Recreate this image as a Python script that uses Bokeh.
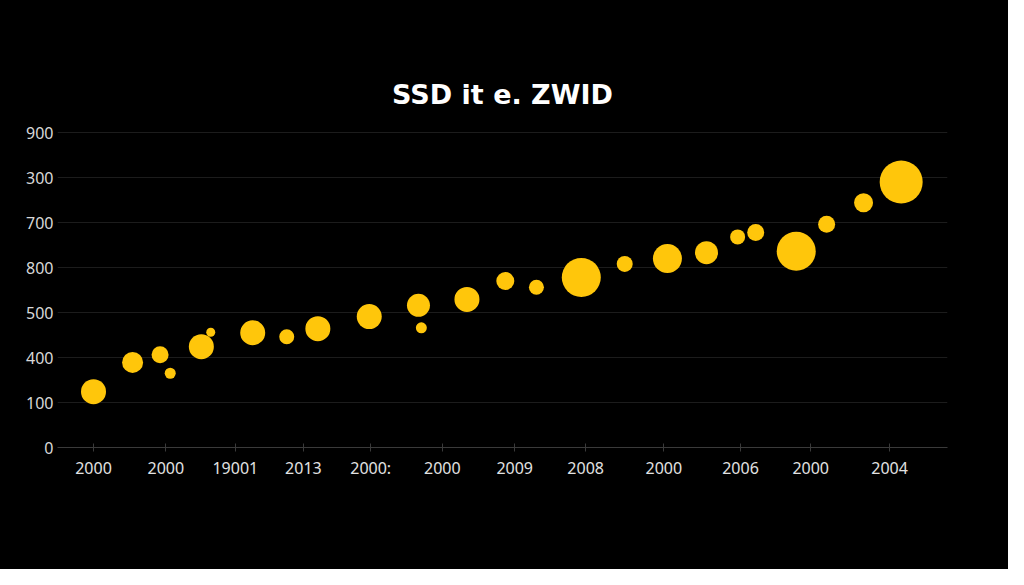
from bokeh.plotting import figure
from bokeh.models import ColumnDataSource, FixedTicker, LinearAxis
from bokeh.embed import file_html
from bokeh.resources import INLINE

# ---- data ----
title_text = "SSD it e. ZWID"
x_tick_pos = [0, 1.0, 1.96, 2.9, 3.83, 4.82, 5.82, 6.8, 7.88, 8.94, 9.91, 11.0]
x_tick_labels = ["2000", "2000", "19001", "2013", "2000:", "2000",
                 "2009", "2008", "2000", "2006", "2000", "2004"]
y_tick_pos = [0, 100, 200, 300, 400, 500, 600, 700]
y_tick_labels = ["0", "100", "400", "500", "800", "700", "300", "900"]

xs = [0.00, 0.54, 0.92, 1.06, 1.49, 1.62, 2.20, 2.67, 3.10, 3.81, 4.49, 4.53, 5.16,
      5.69, 6.12, 6.74, 7.34, 7.93, 8.47, 8.90, 9.15, 9.71, 10.13, 10.64, 11.16]
ys = [124, 189, 206, 165, 224, 256, 255, 246, 264, 291, 316, 266, 329,
      370, 356, 378, 408, 420, 433, 468, 478, 436, 496, 544, 590]
sizes = [25, 21, 17, 11, 25, 9, 25, 15, 25, 25, 23, 11, 25,
         18, 15, 39, 16, 29, 23, 15, 17, 39, 17, 19, 43]

src = ColumnDataSource(dict(x=xs, y=ys, s=sizes))

p = figure(width=1008, height=569, output_backend="svg", toolbar_location=None,
           x_range=(-0.4975, 11.80), y_range=(0, 740),
           background_fill_color="black", border_fill_color="black",
           min_border_left=57, min_border_right=61, min_border_top=114,
           min_border_bottom=122)
p.outline_line_color = None
p.styles = {"background-color": "black"}

# bottom x axis (configured before the spacer axis is added)
xax = p.below[0]
xax.ticker = FixedTicker(ticks=x_tick_pos)
xax.major_label_overrides = {t: l for t, l in zip(x_tick_pos, x_tick_labels)}
xax.axis_line_color = "#3a3a3a"
xax.major_tick_line_color = "#3a3a3a"
xax.major_tick_in = 4
xax.major_tick_out = 4
xax.minor_tick_line_color = None
xax.major_label_text_color = "#e2e2e2"
xax.major_label_text_font = "Noto Sans"
xax.major_label_text_font_size = "16px"
xax.major_label_standoff = 5

# invisible spacer axis between the frame and the title
spacer = LinearAxis(ticker=FixedTicker(ticks=[]), axis_line_color=None,
                    major_tick_line_color=None, minor_tick_line_color=None,
                    major_tick_out=45, minor_tick_out=0, major_tick_in=0,
                    major_label_standoff=0, major_label_text_font_size="0px")
p.add_layout(spacer, "above")

p.title.text = title_text
p.title.align = "center"
p.title.text_color = "white"
p.title.text_font = "DejaVu Sans"
p.title.text_font_size = "27px"
p.title.text_font_style = "bold"
p.title.standoff = 10

p.scatter("x", "y", size="s", source=src, fill_color="#FFC60B", line_color=None)

p.yaxis.ticker = FixedTicker(ticks=y_tick_pos)
p.yaxis.major_label_overrides = {t: l for t, l in zip(y_tick_pos, y_tick_labels)}
p.yaxis.axis_line_color = None
p.yaxis.major_tick_line_color = None
p.yaxis.minor_tick_line_color = None
p.yaxis.major_label_text_color = "#d8d8d8"
p.yaxis.major_label_text_font = "Noto Sans"
p.yaxis.major_label_text_font_size = "16px"
p.yaxis.major_label_standoff = -2

p.xgrid.grid_line_color = None
p.ygrid.grid_line_color = "#1c1c1c"
p.ygrid.grid_line_width = 1

open("out.html", "w").write(file_html(p, INLINE))
